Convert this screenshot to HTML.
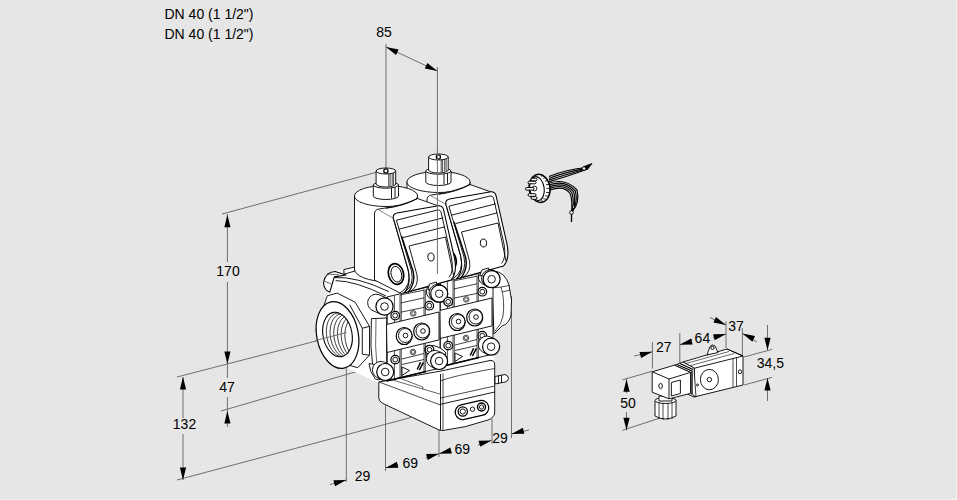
<!DOCTYPE html>
<html><head><meta charset="utf-8">
<style>
html,body{margin:0;padding:0;background:#e6e6e6;width:957px;height:500px;overflow:hidden}
svg{display:block;position:absolute;left:0;top:0}
text{font-family:"Liberation Sans",sans-serif;font-size:14px;fill:#000}
.edge{position:absolute;background:#f3f3f3}
</style></head><body>
<svg width="957" height="500" viewBox="0 0 957 500">
<defs>
<marker id="ar" viewBox="0 0 12 8" refX="12" refY="4" markerWidth="12" markerHeight="8" markerUnits="userSpaceOnUse" orient="auto"><path d="M0,0 L12,4 L0,8 Z" fill="#000"/></marker>
</defs>
<!-- texts -->
<text x="164.5" y="19">DN 40 (1 1/2")</text>
<text x="164.5" y="39">DN 40 (1 1/2")</text>
<g text-anchor="middle">
<text x="384" y="37">85</text>
<text x="228" y="276">170</text>
<text x="227" y="392">47</text>
<text x="184.5" y="428.5">132</text>
<text x="362.5" y="481">29</text>
<text x="410.3" y="468">69</text>
<text x="462.3" y="453.7">69</text>
<text x="500" y="443.2">29</text>
<text x="663.7" y="352.4">27</text>
<text x="702.4" y="343.4">64</text>
<text x="736" y="330.7">37</text>
<text x="770.3" y="367.6">34,5</text>
<text x="628" y="407.8">50</text>
</g>
<!-- dimension lines -->
<g stroke="#6e6e6e" stroke-width="1" fill="none">
<path d="M386,44 V168 M437.4,67 V274 M386,47 L437.4,71"/>
<path d="M222,214 L385,170"/>
<path d="M227.4,214 V262 M227.4,282 V364 M227.4,364 V378 M227.4,397 V427"/>
<path d="M177,377 L320,340"/>
<path d="M221,411 L362,370"/>
<path d="M183,377 V418 M183,434 V480"/>
<path d="M177,480 L411,417.5"/>
<path d="M346.3,364 V482 M385.5,400 V471 M439,377 V457 M492,418 V444 M511.5,296 V438"/>
<path d="M330,484.5 L346,480 M398,464.5 L385.5,468 M425.6,458 L439,453.7 L450,449 M478,445 L491.5,440.5 M529,430 L511.3,434"/>
<!-- device dims -->
<path d="M652.4,342 V368.6 M679.8,333 V363 M726,321 V348 M742.4,328 V355"/>
<path d="M634,356 L652.4,351.8 M692.4,339.2 L679.8,344.8 M713,337.5 L726,334 M710,317.6 L726,325 M757,342 L742.4,333.6"/>
<path d="M767.5,325 V350 M767.5,378 V401 M744,357 L772,349.4 M744,385 L772,377.4"/>
<path d="M626.5,379 V393 M626.5,412 V430.3 M622.4,379.8 L651.8,371.4 M622.4,430.3 L670,414.8"/>
</g>
<!-- arrowheads -->
<g fill="#000" stroke="none">
<path id="ah" d="M0,0 L-12.5,-3.1 L-12.5,3.1 Z" transform="translate(386,47) rotate(205)"/>
<path d="M0,0 L-12.5,-3.1 L-12.5,3.1 Z" transform="translate(437.4,71) rotate(25)"/>
<path d="M0,0 L-12.5,-3.1 L-12.5,3.1 Z" transform="translate(227.4,214.8) rotate(-90)"/>
<path d="M0,0 L-12.5,-3.1 L-12.5,3.1 Z" transform="translate(227.4,364) rotate(90)"/>
<path d="M0,0 L-12.5,-3.1 L-12.5,3.1 Z" transform="translate(227.4,411) rotate(-90)"/>
<path d="M0,0 L-12.5,-3.1 L-12.5,3.1 Z" transform="translate(183,377) rotate(-90)"/>
<path d="M0,0 L-12.5,-3.1 L-12.5,3.1 Z" transform="translate(183,480) rotate(90)"/>
<path d="M0,0 L-12.5,-3.1 L-12.5,3.1 Z" transform="translate(346.3,480) rotate(-14.8)"/>
<path d="M0,0 L-12.5,-3.1 L-12.5,3.1 Z" transform="translate(385.5,468) rotate(165.2)"/>
<path d="M0,0 L-12.5,-3.1 L-12.5,3.1 Z" transform="translate(439,453.7) rotate(-14.8)"/>
<path d="M0,0 L-12.5,-3.1 L-12.5,3.1 Z" transform="translate(439,453.7) rotate(165.2)"/>
<path d="M0,0 L-12.5,-3.1 L-12.5,3.1 Z" transform="translate(491.5,440.5) rotate(-14.8)"/>
<path d="M0,0 L-12.5,-3.1 L-12.5,3.1 Z" transform="translate(511.5,434) rotate(165.2)"/>
<path d="M0,0 L-12.5,-3.1 L-12.5,3.1 Z" transform="translate(652.4,351.8) rotate(-14.8)"/>
<path d="M0,0 L-12.5,-3.1 L-12.5,3.1 Z" transform="translate(679.8,344.8) rotate(165.2)"/>
<path d="M0,0 L-12.5,-3.1 L-12.5,3.1 Z" transform="translate(726,334) rotate(-14.8)"/>
<path d="M0,0 L-12.5,-3.1 L-12.5,3.1 Z" transform="translate(726,325) rotate(25)"/>
<path d="M0,0 L-12.5,-3.1 L-12.5,3.1 Z" transform="translate(742.4,333.6) rotate(205)"/>
<path d="M0,0 L-12.5,-3.1 L-12.5,3.1 Z" transform="translate(767.5,350.3) rotate(90)"/>
<path d="M0,0 L-12.5,-3.1 L-12.5,3.1 Z" transform="translate(767.5,378) rotate(-90)"/>
<path d="M0,0 L-12.5,-3.1 L-12.5,3.1 Z" transform="translate(626.5,379.2) rotate(-90)"/>
<path d="M0,0 L-12.5,-3.1 L-12.5,3.1 Z" transform="translate(626.5,430.3) rotate(90)"/>
</g>
<!-- DRAWING --><!--EXTRA--><g stroke="#000" fill="#fff" stroke-linejoin="round"><g fill="none" stroke="#000" stroke-width="1.15"><path d="M549,176.5 Q566,169.5 587,167.5"/><path d="M549,178.2 Q566,172.0 587,168.1"/><path d="M549,179.9 Q566,174.5 587,168.7"/><path d="M549,181.6 Q566,177.0 587,169.3"/><path d="M549.5,183.0 Q566.0,178.0 577.0,190.0 Q580.0,203.0 572.5,211.0"/><path d="M549.5,184.8 Q565.6,179.6 575.4,191.1 Q578.2,203.0 572.2,211.5"/><path d="M549.5,186.6 Q565.3,181.2 573.8,192.2 Q576.4,203.0 572.0,212.1"/><path d="M549.5,188.4 Q564.9,182.9 572.1,193.2 Q574.6,203.0 571.7,212.6"/><path d="M549.5,190.2 Q564.6,184.5 570.5,194.3 Q572.8,203.0 571.4,213.2"/></g><path d="M584,166.5 L592,163.5 L587,170 Z" fill="#000" stroke-width="0.8"/><circle cx="584" cy="168.5" r="1.8"/><path d="M571.5,211 L571.5,222" fill="none" stroke-width="1.3"/><circle cx="571.5" cy="212.5" r="1.8"/><circle cx="573.5" cy="207" r="1.2"/><ellipse cx="539.6" cy="188.4" rx="10.4" ry="14.1" transform="rotate(-8 539.6 188.4)" stroke-width="1.5"/><ellipse cx="537" cy="188.6" rx="7.2" ry="12" transform="rotate(-8 537 188.6)" stroke-width="1.1"/><g stroke-width="0.8" fill="none"><path d="M543.3,175.5 L541.0,176.4"/><path d="M545.9,177.6 L543.2,178.3"/><path d="M548.0,180.6 L544.9,181.2"/><path d="M549.3,184.3 L546.0,184.7"/><path d="M549.8,188.4 L546.4,188.5"/><path d="M549.3,192.5 L546.0,192.4"/><path d="M548.0,196.2 L544.9,195.9"/><path d="M545.9,199.2 L543.2,198.7"/><path d="M543.3,201.3 L541.0,200.7"/></g><circle cx="534.5" cy="188.5" r="2.4" stroke-width="0.9"/><g stroke-width="1" fill="#fff"><rect x="528" y="181.2" width="8" height="2.6" rx="1.3"/><rect x="525.5" y="187.5" width="8.5" height="2.6" rx="1.3"/><rect x="528" y="193.7" width="8" height="2.6" rx="1.3"/><rect x="531" y="178.2" width="6" height="2.6" rx="1.3"/><rect x="531" y="196.7" width="6" height="2.6" rx="1.3"/></g></g><g stroke="#000" fill="#fff" stroke-linejoin="round" stroke-width="0.9"><path d="M655,401 V416 Q665,422 676,416 V400 Z"/><ellipse cx="665.5" cy="400.5" rx="10.5" ry="3"/><path d="M659,402.5 V419 M663,403 V420 M668,403 V420 M672,402.5 V419" fill="none" stroke-width="0.7"/><path d="M659,396 L672,396 L672,401 L659,401 Z"/><path d="M683,362 L727,349 L743,356 L743,385 L694,397 L683,392 Z"/><path d="M694.4,368.2 L743,356 M694.4,368.2 V397 M727,349 L743,356 M683,362 L694.4,368.2" fill="none"/><path d="M686,363.5 L729,351.5 M689,366 L734,353.5" fill="none" stroke-width="0.6"/><path d="M733,358.5 V387 M736.5,357.5 V386" fill="none" stroke-width="0.7"/><ellipse cx="709.4" cy="379.6" rx="9" ry="10.2"/><circle cx="709.4" cy="379.6" r="2.2"/><ellipse cx="740" cy="371.8" rx="1.6" ry="2"/><circle cx="697.5" cy="385" r="1"/><path d="M707,355 L710,346.5 Q712,343.5 715,346 L718,352.5 Z"/><circle cx="712.5" cy="348" r="1.6"/><path d="M674.4,365.2 L683,362 L694,368 L696,397 L690.6,393.4 L690.6,372.4 Z" stroke-width="0.8"/><path d="M677,364.5 L692,371 L692,394 M680,363.5 L693,369.5" fill="none" stroke-width="1.3"/><path d="M652.2,371.8 L674.4,365.2 L690.6,372.4 L690.6,393.4 L669,398.8 L652.2,392.2 Z"/><path d="M652.2,371.8 L669,379 L690.6,372.4 M669,379 V398.8" fill="none"/><path d="M671.4,382.5 L680.4,380 L680.4,393.5 L671.4,396 Z"/><ellipse cx="660.6" cy="386" rx="1.8" ry="2.6"/></g>
<!--/EXTRA-->
<g id="drawing" stroke="#000" stroke-width="0.9" fill="#fff" stroke-linejoin="round">
<defs>
<g id="coil">
 <!-- cylinder -->
 <path d="M354.5,196 V269 A31.5,12.5 0 0 0 417.5,269 V196 Z"/>
 <ellipse cx="386" cy="196" rx="31.6" ry="10.5"/>
 <!-- nut lower -->
 <path d="M373.3,185 V196 A12.6,3.5 0 0 0 398.5,196 V185 Z"/>
 <ellipse cx="385.9" cy="185" rx="12.6" ry="3.2"/>
 <path d="M391.5,188 V198.5 M395,187.2 V197.8" fill="none"/>
 <!-- nut upper -->
 <path d="M376.1,171 V184 A9.8,3 0 0 0 395.7,184 V171 Z"/>
 <ellipse cx="385.9" cy="171" rx="9.8" ry="3"/>
 <path d="M388.7,173.5 V186 M390.1,173.5 V186 M392.2,173.2 V185.5 M393.6,173 V185" fill="none" stroke-width="0.7"/>
 <circle cx="385.9" cy="171" r="2.1" stroke-width="1.3"/>
 <!-- plug side face -->
 <path d="M374.5,214 Q374.5,209.5 379,209 Q402,206 417.5,198.5 L440,206.5 L393.4,218.4 L408.2,270 Q412,286 400,293 L374.5,280 Z"/>
 <path d="M386,208.3 Q404,206 417.6,198.5" fill="none"/>
 <path d="M378,209.5 L393.4,218.4" fill="none" stroke="#777"/>
 <!-- plug front face -->
 <path d="M393.4,218.4 Q392.5,214 397,213 L437,206 Q442,205 443.5,209.5 L454.5,258 Q457.5,273 451,280 L404,293 Q411.5,285 408.2,270 Z" stroke-width="1.1"/>
 <path d="M396.4,220.2 L437.5,210 Q440,209.5 441,212 L451.5,258 Q454,272 449,277.5 M396.4,220.2 L411.5,271 Q414.5,285 405,292" fill="none"/>
 <path d="M398.8,229.2 L443.2,217.8 M403,237.6 L445,226.8" fill="none"/>
 <path d="M409,246 L445.5,237 L453.5,275 M409,246 L417,275 Q419,286 410.6,291.4" fill="none"/>
 <path d="M401.5,236 L413,271 Q416,283 408,292.5" fill="none" stroke-width="1.4"/>
 <ellipse cx="431" cy="257" rx="3.2" ry="4" transform="rotate(-10 431 257)"/>
 <!-- grommet -->
 <ellipse cx="396" cy="274" rx="7.5" ry="10.5" transform="rotate(-15 396 274)" stroke-width="1.7"/>
 <ellipse cx="396.3" cy="274.3" rx="5.2" ry="8" transform="rotate(-15 396 274)"/>
</g>
</defs>
<!--VALVE--><path stroke="none" d="M336,275 L354.5,267.5 L354.5,262 L500,262 L510,300 L509.5,322 L494,334 L494.7,418 L441,430 L381,403 L378,382 L372,380 L350,369 L330,360 L326,297 Z"/><path d="M378.8,382 L441,371 L490,360.5 Q494.7,360 494.7,365 L494.7,413 Q494,418 488,420 Q465,428 443,430.5 Q440.5,430.8 438,429.5 L383,403.5 Q378.8,401.5 378.8,398 Z"/><path d="M379,382 L440.5,405 M443,373.5 V430 M440.5,381 Q452,376 494.7,368.5 M440.5,398 L494.7,386" fill="none" stroke-width="0.7"/><path d="M440.5,374 V430 M440.5,404.3 L494.7,392" fill="none" stroke-width="0.9"/><path d="M389.2,379 L440.4,394.2 M402,379 L422.8,387 L422.8,389.4" fill="none" stroke-width="0.6"/><rect x="455" y="402.5" width="34" height="15" rx="7.5" transform="rotate(-13 472 410)" stroke-width="1.2"/><circle cx="462.8" cy="411.5" r="4.6" stroke-width="1.3"/><circle cx="462.8" cy="411.5" r="2.6"/><circle cx="472.5" cy="409.2" r="2.2"/><circle cx="481.5" cy="407" r="4" stroke-width="1.4"/><circle cx="481.5" cy="407" r="2.1"/><path d="M495,376.5 L505,374.5 Q508.5,375.5 508.5,378.5 Q508,381.5 505,382 L495,384 Z"/><path d="M498.5,375.8 V383.3 M501.5,375.2 V382.7" fill="none"/><path stroke="none" d="M334,271 L345,269 L372,288 L386,297 L386,380 L372,380 L350,369.3 L324.7,296.6 L330,292 Z"/><path d="M334.2,277.6 Q356,276 388.8,291.6 M335.6,280.6 Q356,281 386,296" fill="none"/><path d="M343.8,269.6 L354.2,267.2 L355,271 L344,274.2 Z"/><path d="M335.2,271.5 Q325,272 323.5,283 Q324,290 329.8,292.2 L334.3,276.9 L346,275 Z" stroke-width="1.1"/><path d="M327,274 L339,274.8 M325,281.5 L331.5,284" fill="none" stroke-width="0.6"/><path d="M327.2,295.8 L337.1,293.1 L355.1,302.1 L369.5,326.4 L369.5,355.1 L357.8,367.7 L330,360 L316,330 Z"/><path d="M349.7,304.8 L362.3,328.2 L362.3,354.2 M362.3,328.2 L369.5,326.4 M362.3,354.2 L369.5,355.1" fill="none"/><defs><clipPath id="hole"><ellipse cx="337.5" cy="334.5" rx="14.5" ry="22.5" transform="rotate(-11 337.5 334.5)"/></clipPath></defs><ellipse cx="337.5" cy="335" rx="20.8" ry="33.8" transform="rotate(-11 337.5 335)" stroke-width="1.2"/><ellipse cx="337.5" cy="334.5" rx="14.5" ry="22.5" transform="rotate(-11 337.5 334.5)" stroke-width="1.1"/><g clip-path="url(#hole)" fill="none" stroke-width="0.7"><ellipse cx="341.2" cy="335.2" rx="14.5" ry="22.5" transform="rotate(-11 341.2 335.2)"/><ellipse cx="344.9" cy="335.9" rx="14.5" ry="22.5" transform="rotate(-11 344.9 335.9)"/><ellipse cx="348.6" cy="336.6" rx="14.5" ry="22.5" transform="rotate(-11 348.6 336.6)"/><ellipse cx="352.3" cy="337.3" rx="14.5" ry="22.5" transform="rotate(-11 352.3 337.3)"/><ellipse cx="356.0" cy="338.0" rx="14.5" ry="22.5" transform="rotate(-11 356.0 338.0)"/><ellipse cx="359.7" cy="338.7" rx="14.5" ry="22.5" transform="rotate(-11 359.7 338.7)"/></g><path d="M494,271 Q505,272 509,285 Q513,300 511,315 Q509,324 502,326 L494,334 L492,290 Z"/><path d="M492.2,288 L501,287 Q505,300 503,316 Q502,324 495,331 M501,287 L509.5,285.5 M502,292 L510,290" fill="none" stroke-width="0.7"/><path d="M371.4,318.6 Q369.5,346 373.4,373.5 L387,377 L387,318 Z"/><path d="M376,318.5 Q374.5,346 377.5,374.5" fill="none" stroke-width="0.6"/><defs><g id="mod"><path d="M387,297 L440,284 L440,368 L387,381 Z"/><path d="M387,297 V381 M394.4,296 V380 M400,295 V378 M401.3,294.8 V377.5 M424,289.5 V372 M425.3,289.2 V371.5" fill="none" stroke-width="0.7"/><path d="M400,295 L424,290.2 M400.8,303 L424,297.8 M400.8,312.2 L424,307.4 M402,359 L424,353.5 M402,364.5 L424,359.5" fill="none" stroke-width="0.75"/><path d="M386.5,381 L426,371.5" fill="none" stroke-width="1.4"/><path d="M386.5,324.5 L439,312 L439,339.9 L387,352.5 Z"/><ellipse cx="404.2" cy="336.0" rx="8" ry="8.5" stroke-width="1.2"/><ellipse cx="405.2" cy="335.5" rx="6.7" ry="7"/><circle cx="405.5" cy="335.5" r="2.3"/><ellipse cx="421.7" cy="331.5" rx="8" ry="8.5" stroke-width="1.2"/><ellipse cx="422.7" cy="331" rx="6.7" ry="7"/><circle cx="423.0" cy="331" r="2.3"/><circle cx="413.2" cy="313.4" r="2.8" stroke-width="0.7"/><circle cx="413" cy="352" r="2.8" stroke-width="0.7"/><circle cx="413.2" cy="313.4" r="1.6" stroke-width="0.6"/><circle cx="413" cy="352" r="1.6" stroke-width="0.6"/><circle cx="395.2" cy="315.6" r="4.3" stroke-width="1.2"/><circle cx="395.2" cy="315.6" r="2.4"/><circle cx="429.3" cy="305.7" r="4.3" stroke-width="1.2"/><circle cx="429.3" cy="305.7" r="2.4"/><circle cx="395.2" cy="359.6" r="4.3" stroke-width="1.2"/><circle cx="395.2" cy="359.6" r="2.4"/><circle cx="429.3" cy="349.7" r="4.3" stroke-width="1.2"/><circle cx="429.3" cy="349.7" r="2.4"/><path d="M402,367 L409.5,370.5 L402,375.5 Z" fill="none"/><path d="M417.2,369.5 L420.6,362.3 M419.4,370 L423.4,362.3" fill="none" stroke-width="1.5"/></g></defs><use href="#mod" transform="translate(53,-14)"/><use href="#mod"/><path d="M369,363.6 L378.2,365 L384,372 L379,380 L375.4,379 Q369.5,372 369,363.6 Z"/><path d="M425.5,352 Q427,345 433,345.5 Q441,347 446,353 L440,366 L428,362 Z"/><circle cx="429.5" cy="349.8" r="4.3" stroke-width="1.2"/><circle cx="429.5" cy="349.8" r="2.4"/><path d="M388.0,298.7 L378.9,294.6 A8.6,8.6 0 0 0 371.9,310.2 L381.0,314.3 Z"/><circle cx="384.5" cy="306.5" r="8.6" stroke-width="1.2"/><circle cx="384.5" cy="306.5" r="3.8"/><path d="M389.0,364.4 L384.5,362.2 A8.5,8.5 0 0 0 376.9,377.4 L381.4,379.6 Z"/><circle cx="385.2" cy="372" r="8.5" stroke-width="1.2"/><circle cx="385.2" cy="372" r="3.8"/><path d="M443.0,286.1 L438.5,283.9 A8.5,8.5 0 0 0 430.9,299.1 L435.4,301.3 Z"/><circle cx="439.2" cy="293.7" r="8.5" stroke-width="1.2"/><circle cx="439.2" cy="293.7" r="3.8"/><path d="M442.9,353.4 L438.4,351.2 A8.5,8.5 0 0 0 430.8,366.4 L435.3,368.6 Z"/><circle cx="439.1" cy="361" r="8.5" stroke-width="1.2"/><circle cx="439.1" cy="361" r="3.8"/><path d="M494.9,271.2 L490.4,269.0 A8.5,8.5 0 0 0 482.8,284.2 L487.3,286.4 Z"/><circle cx="491.1" cy="278.8" r="8.5" stroke-width="1.2"/><circle cx="491.1" cy="278.8" r="3.8"/><path d="M494.9,339.1 L490.4,336.9 A8.5,8.5 0 0 0 482.8,352.1 L487.3,354.3 Z"/><circle cx="491.1" cy="346.7" r="8.5" stroke-width="1.2"/><circle cx="491.1" cy="346.7" r="3.8"/>
<!--/VALVE--><use href="#coil" transform="translate(52.5,-14)"/>
<use href="#coil"/>
</g><!--TOP--><g stroke="#000" stroke-width="0.9" fill="#fff" stroke-linejoin="round"><path d="M428,290 L429.5,284 L436.5,282 L437,287 Z"/><path d="M479.6,276 L482,269.8 L488.6,268 L488.6,274 Z"/><path d="M443.0,286.1 L441.2,285.2 A8.5,8.5 0 0 0 433.6,300.4 L435.4,301.3 Z"/><circle cx="439.2" cy="293.7" r="8.5" stroke-width="1.2"/><circle cx="439.2" cy="293.7" r="3.8"/><path d="M495.4,271.6 L493.6,270.7 A8.5,8.5 0 0 0 486.0,285.9 L487.8,286.8 Z"/><circle cx="491.6" cy="279.2" r="8.5" stroke-width="1.2"/><circle cx="491.6" cy="279.2" r="3.8"/><circle cx="448.2" cy="301.8" r="4.3" stroke-width="1.2"/><circle cx="448.2" cy="301.8" r="2.4"/></g>
<!--/TOP-->
<path d="M437.4,150 V274 M315,340.6 L346.4,332.6" stroke="#6e6e6e" stroke-width="1" fill="none"/>
</svg>
<div class="edge" style="right:0;top:0;width:1px;height:500px"></div>
<div class="edge" style="left:0;bottom:0;width:957px;height:1px"></div>
</body></html>
